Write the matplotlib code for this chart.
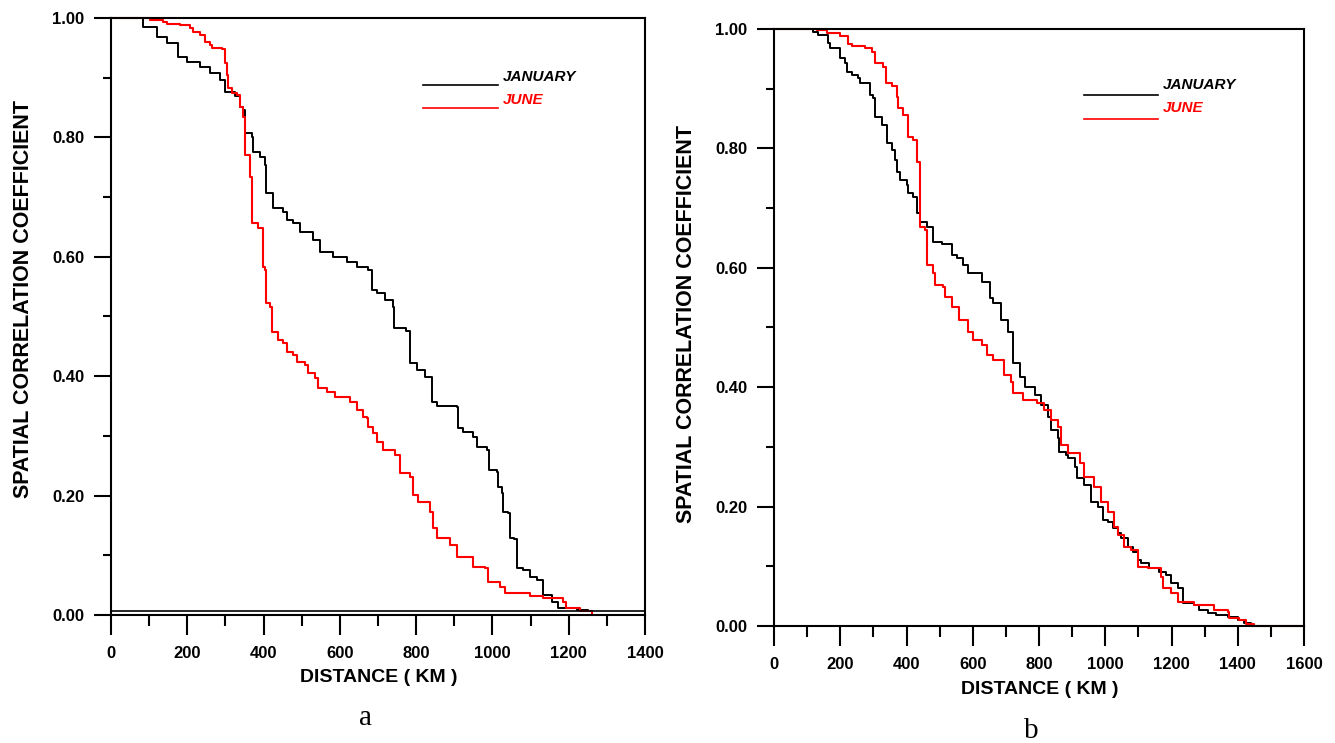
import matplotlib
matplotlib.use("Agg")
import matplotlib.pyplot as plt
from matplotlib.ticker import MultipleLocator, FormatStrFormatter

plt.rcParams['font.family'] = ['Liberation Sans', 'DejaVu Sans']
plt.rcParams['font.weight'] = 'bold'

# panel a
a_jan_km = [0, 58, 84, 120, 147, 176, 199, 233, 260, 286, 299, 325, 338, 346, 351, 369, 372, 391, 404, 406,
            425, 451, 461, 477, 495, 530, 548, 582, 619, 645, 674, 684, 697, 718, 739, 742, 773, 784, 802, 823,
            842, 854, 907, 910, 923, 949, 959, 986, 991, 1012, 1015, 1025, 1028, 1041, 1046, 1057, 1064, 1080,
            1098, 1117, 1133, 1156, 1172, 1222, 1250]
a_jan_r = [1.0, 1.0, 0.985, 0.968, 0.958, 0.935, 0.926, 0.918, 0.908, 0.896, 0.876, 0.869, 0.851, 0.846, 0.807,
           0.80, 0.776, 0.767, 0.754, 0.707, 0.682, 0.675, 0.662, 0.657, 0.642, 0.628, 0.608, 0.60, 0.591, 0.583,
           0.578, 0.544, 0.539, 0.528, 0.516, 0.481, 0.476, 0.422, 0.41, 0.399, 0.357, 0.35, 0.348, 0.313, 0.307,
           0.298, 0.281, 0.276, 0.243, 0.24, 0.214, 0.204, 0.173, 0.171, 0.129, 0.127, 0.079, 0.075, 0.064, 0.059,
           0.034, 0.022, 0.012, 0.008, 0.006]

a_jun_km = [0, 102, 136, 147, 181, 207, 215, 233, 246, 260, 265, 291, 299, 304, 307, 317, 330, 338, 346, 351,
            364, 369, 385, 398, 404, 406, 417, 422, 438, 451, 461, 477, 488, 509, 517, 535, 543, 566, 587, 613,
            627, 645, 661, 671, 674, 687, 697, 713, 745, 758, 784, 792, 805, 836, 844, 855, 889, 907, 949, 980,
            988, 1020, 1033, 1098, 1133, 1185, 1193, 1230, 1261]
a_jun_r = [1.0, 0.997, 0.993, 0.99, 0.988, 0.983, 0.977, 0.971, 0.96, 0.955, 0.95, 0.948, 0.925, 0.905, 0.883,
           0.874, 0.871, 0.851, 0.834, 0.77, 0.734, 0.657, 0.648, 0.583, 0.578, 0.522, 0.516, 0.474, 0.461, 0.456,
           0.441, 0.436, 0.424, 0.419, 0.405, 0.397, 0.38, 0.374, 0.365, 0.365, 0.357, 0.343, 0.332, 0.33, 0.315,
           0.305, 0.29, 0.276, 0.268, 0.238, 0.231, 0.201, 0.189, 0.173, 0.146, 0.129, 0.117, 0.097, 0.08, 0.079,
           0.055, 0.047, 0.037, 0.032, 0.028, 0.022, 0.012, 0.006, 0.0]

# panel b
b_jan_km = [0, 118, 133, 163, 169, 200, 215, 221, 236, 254, 260, 290, 299, 305, 327, 342, 357, 366, 372, 381,
            402, 405, 420, 432, 442, 462, 481, 508, 538, 553, 572, 587, 629, 653, 662, 684, 705, 720, 723, 744,
            759, 789, 805, 826, 835, 856, 859, 880, 889, 910, 916, 935, 956, 977, 992, 1007, 1022, 1037, 1047,
            1068, 1083, 1098, 1107, 1131, 1161, 1183, 1198, 1219, 1234, 1267, 1282, 1310, 1334, 1370, 1400, 1419,
            1440, 1600]
b_jan_r = [1.0, 0.995, 0.99, 0.977, 0.968, 0.951, 0.943, 0.928, 0.923, 0.918, 0.91, 0.89, 0.884, 0.853, 0.839,
           0.809, 0.797, 0.78, 0.76, 0.747, 0.739, 0.725, 0.719, 0.692, 0.677, 0.668, 0.643, 0.64, 0.621, 0.616,
           0.605, 0.591, 0.576, 0.549, 0.541, 0.513, 0.492, 0.484, 0.44, 0.417, 0.40, 0.387, 0.37, 0.35, 0.328,
           0.315, 0.291, 0.286, 0.281, 0.266, 0.248, 0.236, 0.208, 0.199, 0.178, 0.174, 0.164, 0.156, 0.147, 0.132,
           0.124, 0.11, 0.106, 0.097, 0.09, 0.085, 0.072, 0.064, 0.039, 0.035, 0.027, 0.022, 0.018, 0.015, 0.01,
           0.005, 0.0, 0.0]

b_jun_km = [0, 130, 160, 200, 224, 236, 275, 296, 305, 330, 338, 357, 372, 375, 390, 405, 420, 432, 442, 457,
            462, 481, 487, 511, 517, 538, 557, 587, 602, 629, 644, 662, 693, 714, 723, 753, 795, 814, 835, 856,
            865, 889, 925, 935, 965, 986, 1007, 1025, 1037, 1056, 1077, 1098, 1128, 1168, 1174, 1198, 1219, 1267,
            1328, 1370, 1373, 1403, 1425, 1449, 1600]
b_jun_r = [1.0, 0.998, 0.993, 0.988, 0.975, 0.972, 0.968, 0.961, 0.943, 0.936, 0.91, 0.905, 0.886, 0.868, 0.856,
           0.819, 0.814, 0.777, 0.668, 0.663, 0.605, 0.591, 0.571, 0.568, 0.551, 0.534, 0.513, 0.492, 0.479, 0.471,
           0.454, 0.446, 0.42, 0.409, 0.39, 0.379, 0.374, 0.362, 0.345, 0.333, 0.303, 0.29, 0.273, 0.25, 0.233,
           0.208, 0.191, 0.166, 0.152, 0.132, 0.127, 0.099, 0.097, 0.082, 0.064, 0.055, 0.04, 0.035, 0.027, 0.023,
           0.013, 0.01, 0.003, 0.0, 0.0]

series_names = ['JANUARY', 'JUNE']
series_colors = ['black', '#ff0000']

fig = plt.figure(figsize=(13.35, 7.43), dpi=100)
ax1 = fig.add_axes([111/1335, 1-615/743, 534/1335, 597/743])
ax2 = fig.add_axes([774/1335, 1-626/743, 530/1335, 597/743])


def style_axes(ax, xmax):
    ax.set_xlim(0, xmax)
    ax.set_ylim(0, 1)
    for s in ax.spines.values():
        s.set_linewidth(1.5)
    ax.xaxis.set_major_locator(MultipleLocator(200))
    ax.xaxis.set_minor_locator(MultipleLocator(100))
    ax.yaxis.set_major_locator(MultipleLocator(0.2))
    ax.yaxis.set_minor_locator(MultipleLocator(0.1))
    ax.yaxis.set_major_formatter(FormatStrFormatter('%.2f'))
    ax.tick_params(axis='x', which='major', length=14.5, width=1.5, pad=8, labelsize=12)
    ax.tick_params(axis='x', which='minor', length=8, width=1.5)
    ax.tick_params(axis='y', which='major', length=12, width=1.5, pad=7, labelsize=12)
    ax.tick_params(axis='y', which='minor', length=6, width=1.5)


def legend_block(ax, y_line, y_text):
    for i, (name, col) in enumerate(zip(series_names, series_colors)):
        yl = y_line - i * 0.039
        yt = y_text - i * 0.039
        ax.plot([0.584, 0.725], [yl, yl], color=col, lw=1.2, transform=ax.transAxes)
        ax.text(0.734, yt, name, color=col, fontsize=11, fontweight='bold', style='italic',
                transform=ax.transAxes, va='center', ha='left')


style_axes(ax1, 1400)
ax1.plot(a_jan_km, a_jan_r, color=series_colors[0], lw=1.4, drawstyle='steps-post', clip_on=False)
ax1.plot(a_jun_km, a_jun_r, color=series_colors[1], lw=1.5, drawstyle='steps-post', clip_on=False)
ax1.axhline(0.006, color='black', lw=1.2)
legend_block(ax1, 0.888, 0.901)

style_axes(ax2, 1600)
ax2.plot(b_jan_km, b_jan_r, color=series_colors[0], lw=1.4, drawstyle='steps-post', clip_on=False)
ax2.plot(b_jun_km, b_jun_r, color=series_colors[1], lw=1.5, drawstyle='steps-post', clip_on=False)
legend_block(ax2, 0.889, 0.906)

lab = dict(fontsize=15.5, fontweight='bold', ha='center', va='center')
fig.text(24/1335, 1-299/743, 'SPATIAL CORRELATION COEFFICIENT', rotation=90, **lab)
fig.text(686/1335, 1-324/743, 'SPATIAL CORRELATION COEFFICIENT', rotation=90, **lab)
fig.text(379/1335, 1-677/743, 'DISTANCE ( KM )', fontsize=14, fontweight='bold', ha='center', va='center')
fig.text(1040/1335, 1-690/743, 'DISTANCE ( KM )', fontsize=14, fontweight='bold', ha='center', va='center')

fig.text(365/1335, 1-718/743, 'a', family='Liberation Serif', fontweight='normal', fontsize=21,
         ha='center', va='center')
fig.text(1031/1335, 1-731/743, 'b', family='Liberation Serif', fontweight='normal', fontsize=21,
         ha='center', va='center')

plt.savefig('out.png', dpi=100)
